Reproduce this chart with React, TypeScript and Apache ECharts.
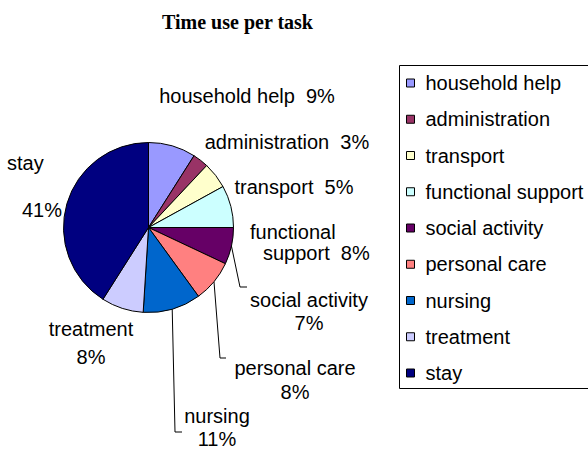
import React, { useEffect, useRef } from 'react';
import * as echarts from 'echarts';

const chartTitle = 'Time use per task';
const categories = [
  'household help',
  'administration',
  'transport',
  'functional support',
  'social activity',
  'personal care',
  'nursing',
  'treatment',
  'stay',
];
const values = [9, 3, 5, 8, 7, 8, 11, 8, 41];
const colors = ['#9999FF', '#993366', '#FFFFCC', '#CCFFFF', '#660066', '#FF8080', '#0066CC', '#CCCCFF', '#000080'];

const FONT = '"Liberation Sans", Arial, Helvetica, sans-serif';
const CX = 148.5;
const CY = 227.5;
const R = 85;

// label placement (styling only)
const labelPlace = [
  { x: 247, y: 96, align: 'center', lh: 22 },
  { x: 287, y: 142, align: 'center', lh: 22 },
  { x: 294, y: 187, align: 'center', lh: 22 },
  { x: 250, y: 242.5, align: 'left', lh: 21 },
  { x: 309, y: 311.5, align: 'center', lh: 23 },
  { x: 295, y: 380, align: 'center', lh: 24 },
  { x: 217, y: 427.5, align: 'center', lh: 23 },
  { x: 91, y: 343, align: 'center', lh: 28 },
  { x: 7, y: 186.5, align: 'left', lh: 23.5 },
];
const leaderBends: Record<number, number[][]> = {
  4: [[240, 287], [247, 287]],
  5: [[220, 358], [226, 358]],
  6: [[175, 432], [182, 432]],
};

function sliceEdgeMid(i: number): number[] {
  const total = values.reduce((a, b) => a + b, 0);
  let before = 0;
  for (let k = 0; k < i; k++) before += values[k];
  const frac = (before + values[i] / 2) / total;
  const th = frac * Math.PI * 2;
  return [CX + R * Math.sin(th), CY - R * Math.cos(th)];
}

export default function App() {
  const ref = useRef<HTMLDivElement>(null);
  useEffect(() => {
    if (!ref.current) return;
    const chart = echarts.init(ref.current, null, { renderer: 'svg' });
    const textBase = { fontFamily: FONT, fontSize: 20, color: '#000' };
    chart.setOption({
      animation: false,
      backgroundColor: '#fff',
      graphic: [
        {
          type: 'text',
          x: 237.5,
          y: 22,
          style: {
            text: chartTitle,
            fontFamily: '"Liberation Serif", "Times New Roman", serif',
            fontWeight: 'bold',
            fontSize: 20,
            fill: '#000',
            textAlign: 'center',
            textVerticalAlign: 'middle',
          },
        },
        {
          type: 'rect',
          shape: { x: 399.5, y: 65.5, width: 220, height: 323 },
          style: { fill: 'none', stroke: '#000', lineWidth: 1 },
        },
      ],
      legend: {
        orient: 'vertical',
        left: 406,
        top: 73,
        padding: 0,
        itemWidth: 8,
        itemHeight: 8,
        itemGap: 16.25,
        icon: 'rect',
        selectedMode: false,
        itemStyle: { borderColor: '#000', borderWidth: 1 },
        textStyle: { ...textBase, lineHeight: 20, padding: [0, 0, 0, 6] },
        data: categories,
      },
      series: [
        {
          type: 'pie',
          center: [CX, CY],
          radius: R,
          startAngle: 90,
          clockwise: true,
          avoidLabelOverlap: false,
          silent: true,
          emphasis: { disabled: true },
          itemStyle: { borderColor: '#000', borderWidth: 1 },
          label: {
            show: true,
            position: 'outside',
            ...textBase,
            formatter: (p: any) => {
              const i = p.dataIndex;
              const pct = Math.round(p.percent) + '%';
              const name = p.name as string;
              if (i <= 2) return `${name}  ${pct}`;
              if (i === 3) {
                const parts = name.split(' ');
                return `${parts[0]}\n{s|${parts.slice(1).join(' ')}  ${pct}}`;
              }
              if (i === 8) return `${name}\n\n{t|${pct}}`;
              return `${name}\n${pct}`;
            },
            rich: {
              s: { ...textBase, lineHeight: 21, padding: [0, 0, 0, 13] },
              t: { ...textBase, lineHeight: 23.5, padding: [0, 0, 0, 15] },
            },
          },
          labelLine: { show: true, lineStyle: { color: '#000', width: 1 } },
          labelLayout: (params: any) => {
            const i = params.dataIndex;
            const pl = labelPlace[i];
            const res: any = { x: pl.x, y: pl.y, align: pl.align, verticalAlign: 'middle', hideOverlap: false };
            if (leaderBends[i]) {
              res.labelLinePoints = [sliceEdgeMid(i), ...leaderBends[i]];
            }
            return res;
          },
          data: categories.map((name, i) => ({
            name,
            value: values[i],
            itemStyle: { color: colors[i] },
            label: { lineHeight: labelPlace[i].lh },
            labelLine: { show: !!leaderBends[i] },
          })),
        },
      ],
    });
    return () => chart.dispose();
  }, []);
  return (
    <div
      ref={ref}
      style={{ position: 'fixed', left: 0, top: 0, width: 588, height: 452, background: '#fff' }}
    />
  );
}
